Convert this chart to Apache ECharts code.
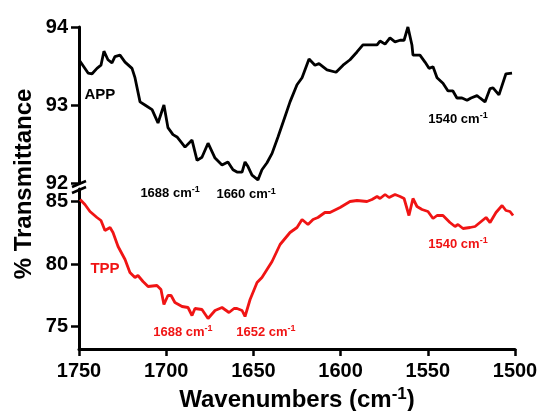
<!DOCTYPE html>
<html>
<head>
<meta charset="utf-8">
<script src="https://cdn.jsdelivr.net/npm/echarts@6/dist/echarts.min.js"></script>
<style>
  html, body { margin: 0; padding: 0; background: #fff; }
  #chart { width: 539px; height: 411px; }
</style>
</head>
<body>
<div id="chart"></div>
<script>
// APP spectrum (top panel)
const appWavenumbers = [1750, 1744.8, 1742.5, 1739.7, 1737.4, 1735.7, 1733.4, 1731.1, 1729.4, 1726.5,
  1723.6, 1719.6, 1717.9, 1715.0, 1712.2, 1708.1, 1704.7, 1701.3, 1699.0, 1696.1,
  1693.8, 1689.2, 1685.2, 1682.3, 1679.5, 1676.0, 1672.0, 1668.0, 1664.6, 1661.7,
  1659.4, 1656.5, 1654.8, 1653.1, 1650.8, 1647.4, 1645.1, 1642.2, 1639.3, 1635.9,
  1631.9, 1629.0, 1625.0, 1622.1, 1618.1, 1614.7, 1612.4, 1607.8, 1602.6, 1598.6,
  1594.6, 1590.6, 1587.2, 1579.1, 1577.4, 1574.5, 1571.7, 1568.8, 1565.9, 1563.6,
  1561.4, 1559.1, 1558.5, 1554.5, 1551.6, 1549.3, 1547.0, 1544.7, 1541.3, 1538.4,
  1535.6, 1533.3, 1530.4, 1527.5, 1525.2, 1521.8, 1520.1, 1517.2, 1514.3, 1512.6,
  1509.2, 1505.2, 1501.7];
const appValues = [93.58, 93.41, 93.40, 93.47, 93.51, 93.69, 93.58, 93.54, 93.62, 93.64,
  93.55, 93.47, 93.35, 93.04, 93.00, 92.94, 92.77, 93.00, 92.71, 92.62,
  92.59, 92.46, 92.55, 92.29, 92.33, 92.51, 92.32, 92.23, 92.27, 92.17,
  92.14, 92.14, 92.27, 92.21, 92.10, 92.04, 92.17, 92.26, 92.38, 92.59,
  92.85, 93.04, 93.26, 93.35, 93.59, 93.51, 93.53, 93.45, 93.42, 93.51,
  93.58, 93.68, 93.77, 93.77, 93.82, 93.78, 93.86, 93.81, 93.83, 93.83,
  94.00, 93.77, 93.64, 93.64, 93.55, 93.47, 93.49, 93.35, 93.28, 93.18,
  93.18, 93.09, 93.09, 93.06, 93.09, 93.12, 93.09, 93.04, 93.21, 93.22,
  93.13, 93.40, 93.41];

// TPP spectrum (bottom panel)
const tppWavenumbers = [1749.4, 1746.6, 1743.7, 1739.7, 1737.4, 1735.1, 1732.2, 1730.5, 1727.6, 1723.6,
  1720.8, 1717.9, 1716.2, 1713.3, 1710.4, 1705.3, 1703.0, 1701.3, 1699.0, 1697.2,
  1695.0, 1690.9, 1687.5, 1685.2, 1683.5, 1679.5, 1676.0, 1672.0, 1668.0, 1664.0,
  1661.1, 1659.4, 1656.5, 1654.8, 1651.9, 1647.9, 1645.1, 1639.3, 1634.7, 1629.0,
  1625.0, 1622.1, 1618.7, 1615.8, 1613.0, 1609.0, 1606.1, 1600.3, 1594.6, 1590.6,
  1584.9, 1582.0, 1579.1, 1577.4, 1574.5, 1572.2, 1568.8, 1565.9, 1563.6, 1560.8,
  1558.5, 1556.2, 1553.3, 1549.9, 1547.0, 1544.7, 1541.3, 1537.3, 1534.4, 1532.7,
  1529.8, 1525.8, 1522.9, 1520.1, 1516.6, 1514.3, 1510.9, 1507.4, 1505.2, 1502.9,
  1501.1];
const tppValues = [85.16, 84.76, 84.20, 83.72, 83.48, 82.68, 82.92, 82.52, 81.40, 80.36,
  79.32, 78.92, 79.08, 78.60, 78.20, 78.28, 77.96, 76.76, 77.48, 77.48,
  76.92, 76.60, 76.52, 75.88, 76.44, 76.36, 75.64, 76.28, 76.52, 76.12,
  76.44, 76.44, 76.28, 75.80, 77.16, 78.52, 78.92, 80.20, 81.56, 82.52,
  82.92, 83.56, 83.16, 83.56, 83.72, 84.12, 84.12, 84.52, 85.00, 85.08,
  85.00, 85.16, 85.40, 85.24, 85.56, 85.32, 85.56, 85.40, 85.24, 83.88,
  85.24, 84.60, 84.36, 84.20, 83.64, 83.88, 83.88, 83.32, 83.00, 83.16,
  82.84, 82.92, 83.00, 83.32, 83.72, 83.32, 84.12, 84.68, 84.28, 84.20,
  83.88];

const xTicks = [1750, 1700, 1650, 1600, 1550, 1500];
const topTicks = [92, 93, 94];
const bottomTicks = [75, 80, 85];

// annotations: [text, wavenumber, value, panel, color]
const notes = [
  ['APP', 1738, 93.13, 0, '#000'],
  ['1688 cm|-1', 1697.8, 91.87, 0, '#000'],
  ['1660 cm|-1', 1654.2, 91.85, 0, '#000'],
  ['1540 cm|-1', 1532.7, 92.82, 0, '#000'],
  ['TPP', 1735.1, 79.64, 1, '#f01414'],
  ['1688 cm|-1', 1690.4, 74.52, 1, '#f01414'],
  ['1652 cm|-1', 1642.8, 74.52, 1, '#f01414'],
  ['1540 cm|-1', 1532.7, 81.56, 1, '#f01414']
];

const FONT = 'Arial, "Liberation Sans", sans-serif';
const zip = (a, b) => a.map((v, i) => [v, b[i]]);
const plain = v => String(v);

const chart = echarts.init(document.getElementById('chart'));

const yAxisCommon = {
  type: 'value',
  axisLine: { show: true, lineStyle: { color: '#000', width: 3 } },
  axisTick: { show: true, length: 8, lineStyle: { color: '#000', width: 2.5 } },
  axisLabel: { color: '#000', fontSize: 20, fontWeight: 'bold', fontFamily: FONT, margin: 11, formatter: plain },
  splitLine: { show: false }
};

const option = {
  animation: false,
  backgroundColor: '#fff',
  grid: [
    { left: 79, width: 436, top: 27, height: 156, outerBoundsMode: 'none', containLabel: false },
    { left: 79, width: 436, top: 189, height: 160, outerBoundsMode: 'none', containLabel: false }
  ],
  xAxis: [
    { type: 'value', gridIndex: 0, min: 1500, max: 1750, inverse: true, interval: 50, show: false },
    {
      type: 'value', gridIndex: 1, min: 1500, max: 1750, inverse: true, interval: 50,
      axisLine: { show: true, onZero: false, lineStyle: { color: '#000', width: 3 } },
      axisTick: { show: true, length: 7, lineStyle: { color: '#000', width: 2.5 }, customValues: xTicks },
      axisLabel: { color: '#000', fontSize: 20, fontWeight: 'bold', fontFamily: FONT, margin: 12,
        customValues: xTicks, formatter: plain },
      splitLine: { show: false },
      name: '{a|Wavenumbers (cm}{s|-1}{a|)}',
      nameLocation: 'middle',
      nameGap: 37,
      nameTextStyle: {
        rich: {
          a: { fontSize: 24, fontWeight: 'bold', fontFamily: FONT, color: '#000', lineHeight: 28 },
          s: { fontSize: 17, fontWeight: 'bold', fontFamily: FONT, color: '#000', lineHeight: 12, verticalAlign: 'top' }
        }
      }
    }
  ],
  yAxis: [
    Object.assign({}, yAxisCommon, {
      gridIndex: 0, min: 92, max: 94,
      axisTick: Object.assign({}, yAxisCommon.axisTick, { customValues: topTicks }),
      axisLabel: Object.assign({}, yAxisCommon.axisLabel, { customValues: topTicks })
    }),
    Object.assign({}, yAxisCommon, {
      gridIndex: 1, min: 73.2, max: 86,
      axisTick: Object.assign({}, yAxisCommon.axisTick, { customValues: bottomTicks }),
      axisLabel: Object.assign({}, yAxisCommon.axisLabel, { customValues: bottomTicks })
    })
  ],
  series: [
    {
      name: 'APP', type: 'line', xAxisIndex: 0, yAxisIndex: 0,
      data: zip(appWavenumbers, appValues),
      showSymbol: false, clip: false,
      lineStyle: { color: '#000', width: 2.8 }
    },
    {
      name: 'TPP', type: 'line', xAxisIndex: 1, yAxisIndex: 1,
      data: zip(tppWavenumbers, tppValues),
      showSymbol: false, clip: false,
      lineStyle: { color: '#f01414', width: 2.8 }
    }
  ]
};
chart.setOption(option);

// text labels placed through the axes, plus the axis-break marks
const graphics = notes.map(function (n) {
  const p = chart.convertToPixel({ gridIndex: n[3] }, [n[1], n[2]]);
  const parts = n[0].split('|');
  const text = parts.length > 1 ? '{a|' + parts[0] + '}{s|' + parts[1] + '}' : '{b|' + parts[0] + '}';
  return {
    type: 'text', x: p[0], y: p[1],
    style: {
      text: text, align: 'center', verticalAlign: 'middle',
      rich: {
        a: { fontSize: 13, fontWeight: 'bold', fontFamily: FONT, fill: n[4], lineHeight: 16 },
        s: { fontSize: 9, fontWeight: 'bold', fontFamily: FONT, fill: n[4], lineHeight: 7, verticalAlign: 'top' },
        b: { fontSize: 15, fontWeight: 'bold', fontFamily: FONT, fill: n[4], lineHeight: 18 }
      }
    }
  };
});
graphics.push(
  {
    type: 'text', x: 24, y: 184, rotation: Math.PI / 2,
    style: { text: '% Transmittance', align: 'center', verticalAlign: 'middle',
      fontSize: 24, fontWeight: 'bold', fontFamily: FONT, fill: '#000' }
  },
  { type: 'line', shape: { x1: 72, y1: 187, x2: 86, y2: 181 }, style: { stroke: '#000', lineWidth: 2.5 } },
  { type: 'line', shape: { x1: 72, y1: 193, x2: 86, y2: 187 }, style: { stroke: '#000', lineWidth: 2.5 } }
);
chart.setOption({ graphic: graphics });
</script>
</body>
</html>
